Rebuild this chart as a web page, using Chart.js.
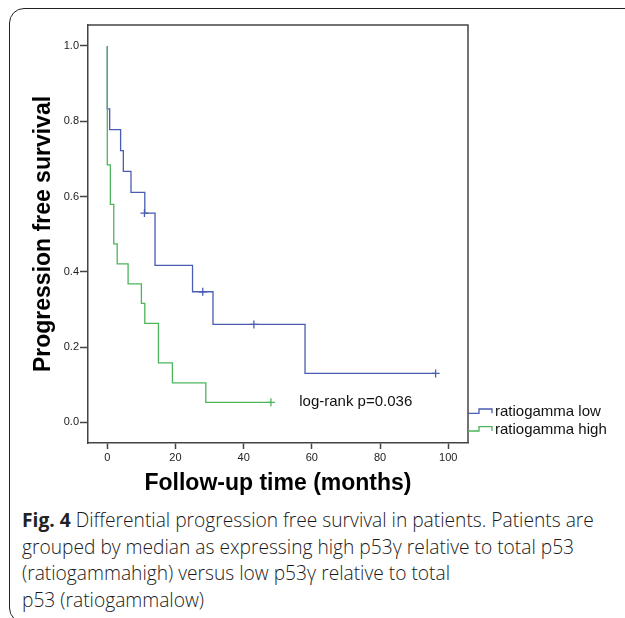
<!DOCTYPE html>
<html><head><meta charset="utf-8">
<script src="https://cdn.jsdelivr.net/npm/chart.js@4"></script>
<style>
html,body{margin:0;padding:0;background:#fff;width:625px;height:618px;overflow:hidden;}
#card{position:absolute;left:9px;top:8px;width:700px;height:615px;border:1.6px solid #222;border-radius:15px;box-sizing:border-box;}
#wrap{position:absolute;left:0;top:0;width:625px;height:500px;}
#caption{position:absolute;left:22px;top:507px;font-family:"Open Sans";font-size:19.2px;font-weight:300;line-height:26.5px;color:#1a1a1a;white-space:nowrap;}
#caption b{color:#222;font-weight:700;}
</style></head><body>
<div id="card"></div>
<div id="wrap"><canvas id="c" width="625" height="500"></canvas></div>
<div id="caption"><b>Fig. 4</b> Differential progression free survival in patients. Patients are<br>grouped by median as expressing high p53γ relative to total p53<br>(ratiogammahigh) versus low p53γ relative to total<br>p53 (ratiogammalow)</div>
<script>
// ratiogamma low (blue)
const lowTimes = [0, 0, 0.7, 3.9, 4.7, 6.95, 11.0, 14.0, 25.0, 31.0, 58.0, 96.3];
const lowSurv  = [1.0, 0.833, 0.778, 0.722, 0.667, 0.611, 0.556, 0.417, 0.347, 0.26, 0.13, 0.13];
const lowCensorTimes = [10.9, 28.0, 43.0, 96.3];
const lowCensorSurv  = [0.556, 0.347, 0.26, 0.13];
// ratiogamma high (green)
const highTimes = [0, 0, 0.9, 1.9, 2.9, 6.1, 10.0, 11.0, 15.0, 19.1, 28.9, 48.0];
const highSurv  = [1.0, 0.684, 0.579, 0.474, 0.421, 0.368, 0.316, 0.263, 0.158, 0.105, 0.053, 0.053];
const highCensorTimes = [48.0];
const highCensorSurv  = [0.053];
const seriesLabels = ['ratiogamma low', 'ratiogamma high'];
const seriesColors = ['#4a5cb2', '#4cb55c'];
const xTicks = [0, 20, 40, 60, 80, 100];
const yTicks = [0.0, 0.2, 0.4, 0.6, 0.8, 1.0];
const annotationText = 'log-rank p=0.036';
const annotationPos = [56.3, 0.053];

const pts = (xs, ys) => xs.map((x, i) => ({x: x, y: ys[i]}));

const framePlugin = {
  id: 'frame',
  afterDraw(chart) {
    const {ctx, chartArea: a} = chart;
    ctx.save();
    ctx.strokeStyle = '#444'; ctx.lineWidth = 1.5;
    ctx.beginPath();
    ctx.moveTo(a.left, a.top); ctx.lineTo(a.right, a.top); ctx.lineTo(a.right, a.bottom);
    ctx.stroke();
    // legend
    ctx.font = '15px "Liberation Sans"';
    ctx.textBaseline = 'middle'; ctx.textAlign = 'left';
    const base = [a.bottom - 29.7, a.bottom - 12];
    for (let i = 0; i < 2; i++) {
      const y = base[i];
      ctx.strokeStyle = seriesColors[i]; ctx.lineWidth = 1.3;
      ctx.beginPath();
      ctx.moveTo(a.right, y); ctx.lineTo(a.right + 11, y); ctx.lineTo(a.right + 11, y - 4.3);
      ctx.lineTo(a.right + 24, y - 4.3); ctx.lineTo(a.right + 24, y);
      ctx.stroke();
      ctx.fillStyle = '#111';
      ctx.fillText(seriesLabels[i], a.right + 27, y - 1);
    }
    // annotation
    const xs = chart.scales.x, ys = chart.scales.y;
    ctx.fillStyle = '#111';
    ctx.fillText(annotationText, xs.getPixelForValue(annotationPos[0]), ys.getPixelForValue(annotationPos[1]));
    ctx.restore();
  }
};

const tickFont = {family: 'Liberation Sans', size: 11};
const titleFont = {family: 'Liberation Sans', size: 23, weight: 'bold'};

new Chart(document.getElementById('c'), {
  type: 'line',
  data: {
    datasets: [
      {label: seriesLabels[0], data: pts(lowTimes, lowSurv), stepped: 'before', borderColor: seriesColors[0], borderWidth: 1.3, pointRadius: 0, fill: false, order: 2},
      {label: seriesLabels[1], data: pts(highTimes, highSurv), stepped: 'before', borderColor: seriesColors[1], borderWidth: 1.3, pointRadius: 0, fill: false, order: 1},
      {label: 'low censored', data: pts(lowCensorTimes, lowCensorSurv), showLine: false, pointStyle: 'cross', pointRadius: 4, pointBorderColor: seriesColors[0], pointBorderWidth: 1.3, order: 0},
      {label: 'high censored', data: pts(highCensorTimes, highCensorSurv), showLine: false, pointStyle: 'cross', pointRadius: 4, pointBorderColor: seriesColors[1], pointBorderWidth: 1.3, order: 0}
    ]
  },
  options: {
    responsive: false,
    animation: false,
    layout: {padding: {top: 25, right: 157, bottom: 0, left: 0}},
    plugins: {legend: {display: false}, tooltip: {enabled: false}},
    scales: {
      x: {
        type: 'linear', min: -5.66, max: 105.8,
        afterBuildTicks: s => { s.ticks = xTicks.map(v => ({value: v})); },
        afterFit: s => { s.height = 57; },
        grid: {drawOnChartArea: false, drawTicks: true, tickLength: 6, tickColor: '#444', tickWidth: 1.5},
        border: {display: true, color: '#444', width: 1.5},
        ticks: {font: tickFont, color: '#222', padding: 2, maxRotation: 0, autoSkip: false},
        title: {display: true, text: 'Follow-up time (months)', font: titleFont, color: '#000', padding: {top: 0, bottom: 3}}
      },
      y: {
        type: 'linear', min: -0.055, max: 1.0558,
        afterBuildTicks: s => { s.ticks = yTicks.map(v => ({value: v})); },
        afterFit: s => { s.width = 88; },
        grid: {drawOnChartArea: false, drawTicks: true, tickLength: 8, tickColor: '#444', tickWidth: 1.5},
        border: {display: true, color: '#444', width: 1.5},
        ticks: {font: tickFont, color: '#222', padding: 1, callback: v => v.toFixed(1)},
        title: {display: true, text: 'Progression free survival', font: titleFont, color: '#000', padding: {top: 30, bottom: 0}}
      }
    }
  },
  plugins: [framePlugin]
});
</script>
</body></html>
